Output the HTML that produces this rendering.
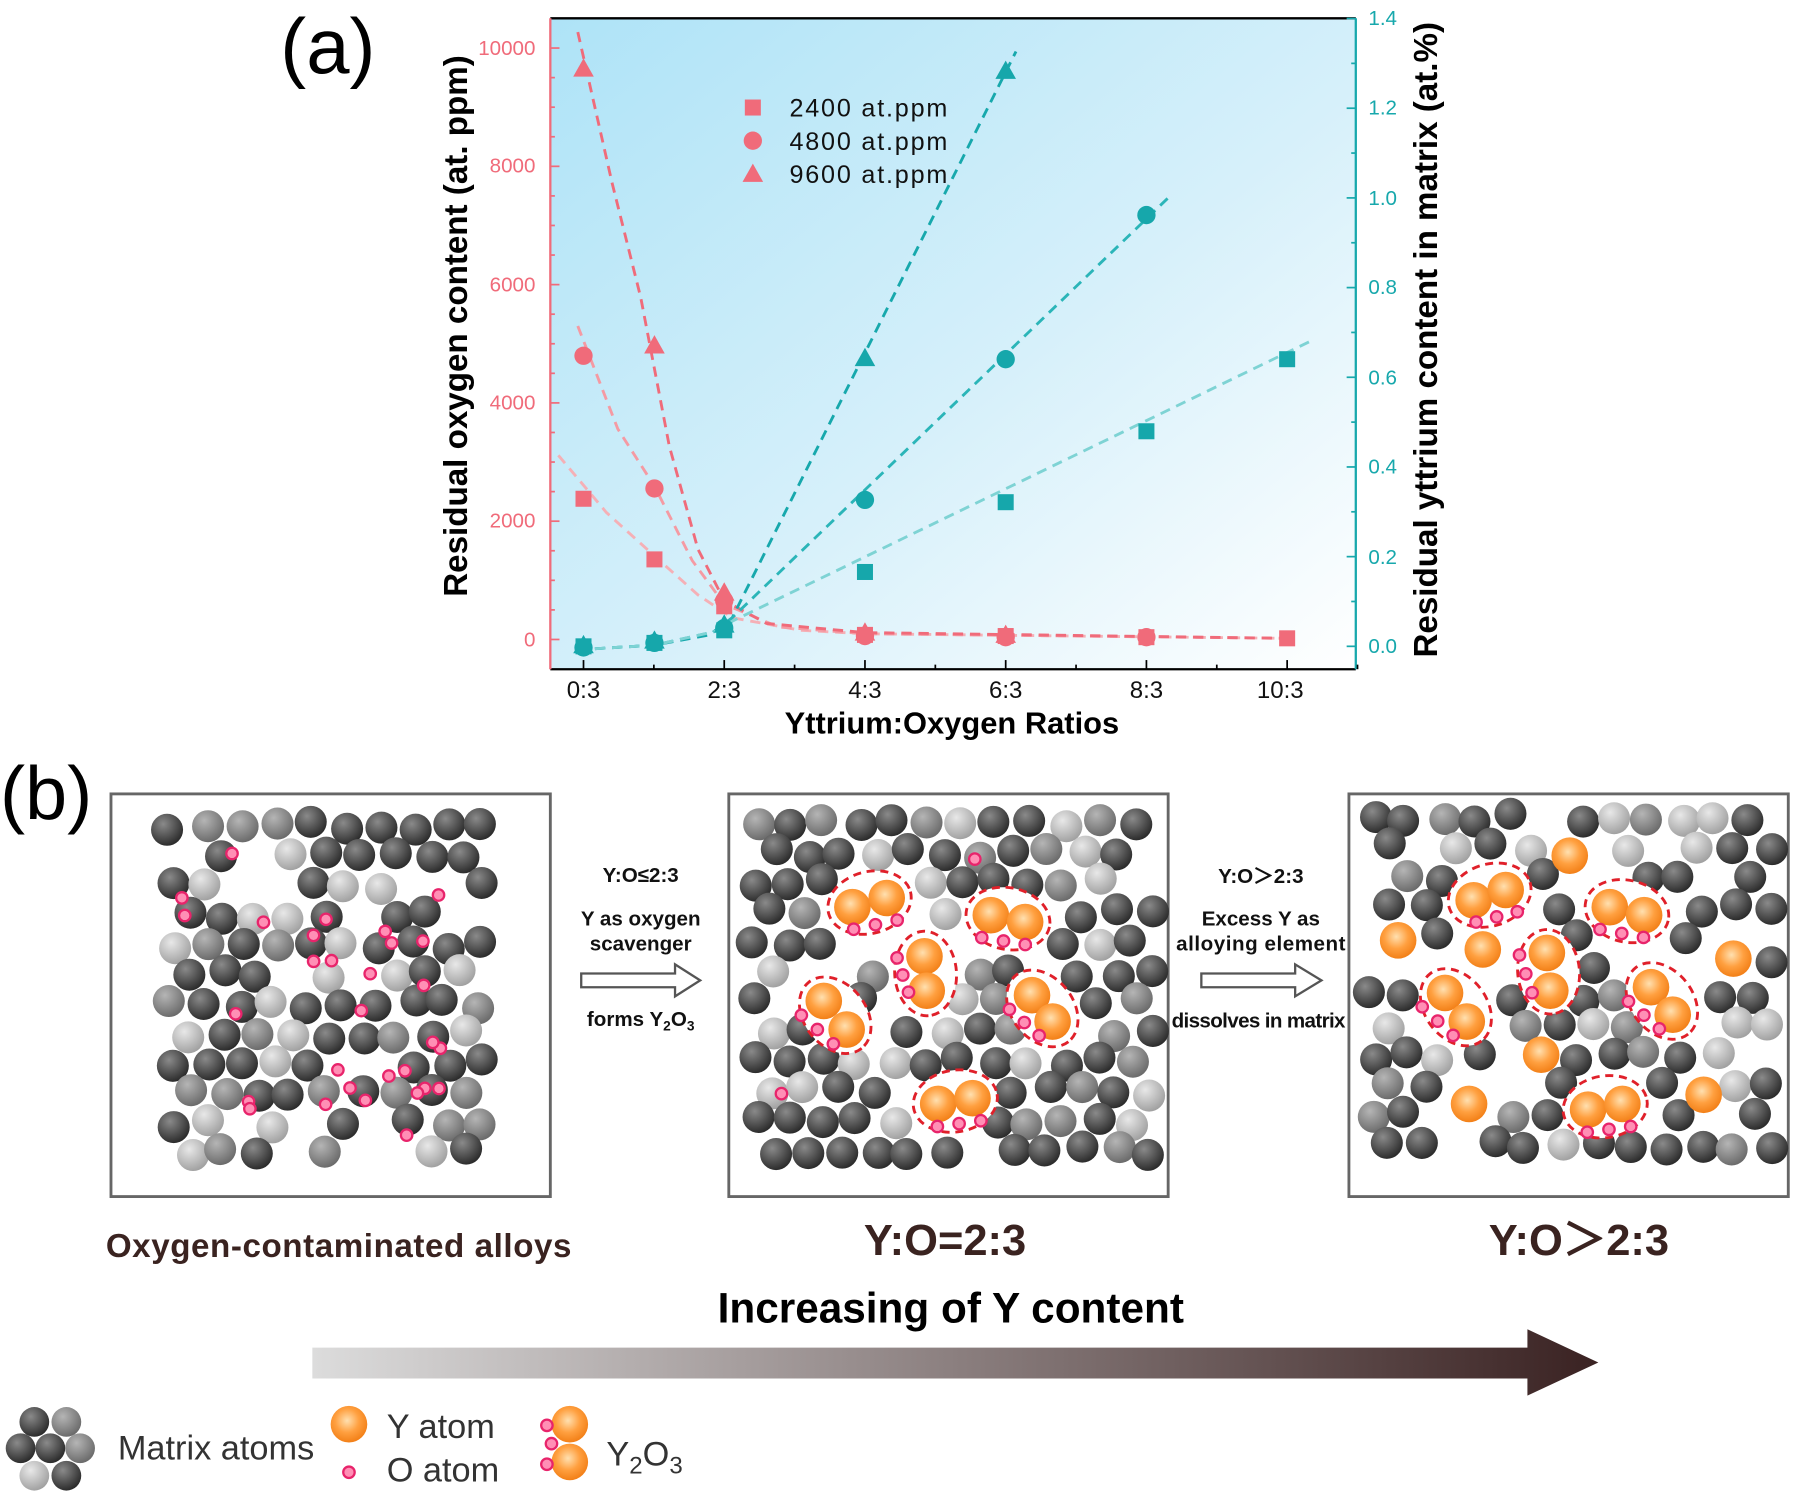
<!DOCTYPE html>
<html><head><meta charset="utf-8"><style>
html,body{margin:0;padding:0;background:#fff;}
svg{display:block;}
text{font-family:"Liberation Sans",Arial,sans-serif;}
</style></head><body>
<svg id="s" width="1794" height="1494" viewBox="0 0 1568 1306" preserveAspectRatio="none" xmlns="http://www.w3.org/2000/svg">
<defs>
<linearGradient id="bg" x1="0" y1="0" x2="1" y2="1"><stop offset="0" stop-color="#aee3f7"/><stop offset="0.55" stop-color="#d6f0fa"/><stop offset="1" stop-color="#ffffff"/></linearGradient>
<radialGradient id="gd" cx="0.38" cy="0.32" r="0.7"><stop offset="0" stop-color="#8a8a8a"/><stop offset="1" stop-color="#2a2a2a"/></radialGradient>
<radialGradient id="gm" cx="0.38" cy="0.32" r="0.7"><stop offset="0" stop-color="#b5b5b5"/><stop offset="1" stop-color="#6a6a6a"/></radialGradient>
<radialGradient id="gl" cx="0.38" cy="0.32" r="0.7"><stop offset="0" stop-color="#e8e8e8"/><stop offset="1" stop-color="#a0a0a0"/></radialGradient>
<radialGradient id="go" cx="0.45" cy="0.4" r="0.65"><stop offset="0" stop-color="#ffe0b0"/><stop offset="0.5" stop-color="#ffa040"/><stop offset="1" stop-color="#f07a10"/></radialGradient>
<linearGradient id="arr" x1="0" y1="0" x2="1" y2="0"><stop offset="0" stop-color="#dcdcdc"/><stop offset="1" stop-color="#3a2222"/></linearGradient>
</defs>

<text x="245" y="64" font-size="68">(a)</text>
<rect x="481" y="16" width="704" height="569" fill="url(#bg)"/>
<line x1="481" y1="16" x2="1185" y2="16" stroke="#000" stroke-width="2"/>
<line x1="481" y1="585" x2="1185" y2="585" stroke="#000" stroke-width="2"/>
<line x1="481" y1="16" x2="481" y2="585" stroke="#f06b7a" stroke-width="2"/>
<line x1="1185" y1="16" x2="1185" y2="585" stroke="#17a8ac" stroke-width="2"/>
<g id="ticks"></g>
<g font-size="18" fill="#f06b7a" text-anchor="end">
<text x="468" y="48">10000</text><text x="468" y="151">8000</text><text x="468" y="255">6000</text><text x="468" y="358">4000</text><text x="468" y="461">2000</text><text x="468" y="565">0</text>
</g>
<g font-size="18" fill="#17a8ac">
<text x="1196" y="22">1.4</text><text x="1196" y="100">1.2</text><text x="1196" y="179">1.0</text><text x="1196" y="257">0.8</text><text x="1196" y="336">0.6</text><text x="1196" y="414">0.4</text><text x="1196" y="493">0.2</text><text x="1196" y="571">0.0</text>
</g>
<g font-size="21" fill="#111" text-anchor="middle">
<text x="510" y="610">0:3</text><text x="633" y="610">2:3</text><text x="756" y="610">4:3</text><text x="879" y="610">6:3</text><text x="1002" y="610">8:3</text><text x="1119" y="610">10:3</text>
</g>
<text x="832" y="641" font-size="27" font-weight="bold" text-anchor="middle">Yttrium:Oxygen Ratios</text>
<text transform="translate(408,285) rotate(-90)" font-size="29" font-weight="bold" text-anchor="middle">Residual oxygen content (at. ppm)</text>
<text transform="translate(1256,297) rotate(-90)" font-size="29" font-weight="bold" text-anchor="middle">Residual yttrium content in matrix (at.%)</text>

<g fill="none" stroke-width="2.5" stroke-dasharray="9,6">
<polyline stroke="#f5b0b6" points="488,398 530,448 572,486 610,520 640,540 700,551 756,554 1125,558"/>
<polyline stroke="#f59aa3" points="505,285 540,375 572,425 605,490 633,528 680,548 756,554 1125,558"/>
<polyline stroke="#f06b7a" points="505,28 535,160 560,260 585,390 610,480 633,525 670,545 756,553 1125,558"/>
<polyline stroke="#17a8ac" points="505,568 572,564 620,555 640,540 888,45"/>
<polyline stroke="#2bb5b8" points="505,568 572,564 625,552 640,540 1022,172"/>
<polyline stroke="#7ed3d4" points="505,568 572,564 625,552 640,543 1148,297"/>
</g>
<g id="markers"></g>
<g font-size="22" fill="#111"><text x="690" y="102" textLength="138">2400  at.ppm</text><text x="690" y="131" textLength="138">4800  at.ppm</text><text x="690" y="160" textLength="138">9600  at.ppm</text></g>

<text x="0" y="716" font-size="66">(b)</text>
<rect x="97" y="694" width="384" height="352" fill="#fff" stroke="#666" stroke-width="2.5"/>
<rect x="637" y="694" width="384" height="352" fill="#fff" stroke="#666" stroke-width="2.5"/>
<rect x="1179" y="694" width="384" height="352" fill="#fff" stroke="#666" stroke-width="2.5"/>
<g id="atoms"></g>

<g font-size="18" font-weight="bold" text-anchor="middle" fill="#111">
<text x="560" y="771">Y:O≤2:3</text>
<text x="560" y="809">Y as oxygen</text>
<text x="560" y="831">scavenger</text>
<text x="560" y="897">forms Y<tspan font-size="12" dy="4">2</tspan><tspan dy="-4">O</tspan><tspan font-size="12" dy="4">3</tspan></text>
<text x="1102" y="772">Y:O＞2:3</text>
<text x="1102" y="809">Excess Y as</text>
<text x="1102" y="831" textLength="148">alloying element</text>
<text x="1100" y="898" textLength="152">dissolves in matrix</text>
</g>
<path d="M508,851 H590 V843 L612,857 L590,871 V863 H508 Z" fill="#fff" stroke="#555" stroke-width="2"/>
<path d="M1050,851 H1132 V843 L1155,857 L1132,871 V863 H1050 Z" fill="#fff" stroke="#555" stroke-width="2"/>

<g font-weight="bold" fill="#3a2320" text-anchor="middle">
<text x="296" y="1099" font-size="29" textLength="407">Oxygen-contaminated alloys</text>
<text x="826" y="1097" font-size="38">Y:O=2:3</text>
<text x="1380" y="1097" font-size="38">Y:O＞2:3</text>
</g>
<text x="831" y="1156" font-size="37" font-weight="bold" text-anchor="middle" fill="#000">Increasing of Y content</text>
<path d="M273,1178 H1335 V1162 L1397,1191 L1335,1220 V1205 H273 Z" fill="url(#arr)"/>

<g id="legend"></g>
<g font-size="30" fill="#333">
<text x="103" y="1276">Matrix atoms</text>
<text x="338" y="1257">Y atom</text>
<text x="338" y="1295">O atom</text>
<text x="530" y="1281">Y<tspan font-size="21" dy="7">2</tspan><tspan dy="-7">O</tspan><tspan font-size="21" dy="7">3</tspan></text>
</g>
</svg>
<script>
var NS="http://www.w3.org/2000/svg";
function el(p,t,a){var e=document.createElementNS(NS,t);for(var k in a)e.setAttribute(k,a[k]);p.appendChild(e);return e;}
var seed=7;function rnd(){seed=(seed*16807)%2147483647;return (seed-1)/2147483646;}
var tk=document.getElementById('ticks');
for(var i=0;i<=20;i++){var y=559-i*25.85;var L=i%4==0?8:4;el(tk,'line',{x1:481,y1:y,x2:481+L,y2:y,stroke:'#f06b7a','stroke-width':1.5});}
for(var i=0;i<=14;i++){var y=565-i*39.2;var L=i%2==0?8:4;el(tk,'line',{x1:1185,y1:y,x2:1185-L,y2:y,stroke:'#17a8ac','stroke-width':1.5});}
for(var i=0;i<=11;i++){var x=510+i*61.5;var L=i%2==0?8:4;el(tk,'line',{x1:x,y1:585,x2:x,y2:585-L,stroke:'#000','stroke-width':1.5});}
var mk=document.getElementById('markers');
function sq(x,y,c){el(mk,'rect',{x:x-7,y:y-7,width:14,height:14,fill:c});}
function ci(x,y,c){el(mk,'circle',{cx:x,cy:y,r:8,fill:c});}
function tr(x,y,c){el(mk,'path',{d:'M'+x+','+(y-9)+' l9,16 h-18 z',fill:c});}
var P='#f06b7a',T='#16a7ab';
[[510,436],[572,489],[633,530],[756,555],[879,556],[1002,557],[1125,558]].forEach(function(p){sq(p[0],p[1],P);});
[[510,311],[572,427],[633,525],[756,556],[879,557],[1002,557]].forEach(function(p){ci(p[0],p[1],P);});
[[510,60],[572,302],[633,518],[756,553],[879,555]].forEach(function(p){tr(p[0],p[1],P);});
[[510,565],[572,562],[633,551],[756,500],[879,439],[1002,377],[1125,314]].forEach(function(p){sq(p[0],p[1],T);});
[[510,566],[572,562],[633,549],[756,437],[879,314],[1002,188]].forEach(function(p){ci(p[0],p[1],T);});
[[510,564],[572,560],[633,546],[756,313],[879,62]].forEach(function(p){tr(p[0],p[1],T);});
sq(658,94,P);ci(658,123,P);tr(658,152,P);
var ag=document.getElementById('atoms');
function gray(g,x,y,r){var v=rnd();var f=v<0.6?'url(#gd)':(v<0.8?'url(#gm)':'url(#gl)');el(g,'circle',{cx:x,cy:y,r:r,fill:f});}
function O(g,x,y){el(g,'circle',{cx:x,cy:y,r:5,fill:'#ff8fb5',stroke:'#e8246b','stroke-width':2});}
function Y(g,x,y){el(g,'circle',{cx:x,cy:y,r:16,fill:'url(#go)'});}
function fill(x0,x1,y0,y1,avoid){
 var sp=30,row=0;
 for(var y=y0;y<=y1;y+=26,row++){
  for(var x=x0+(row%2)*15;x<=x1;x+=sp){
   var xx=x+(rnd()-0.5)*8,yy=y+(rnd()-0.5)*8;
   var ok=true;for(var k=0;k<avoid.length;k++){var a=avoid[k];if(Math.hypot(xx-a[0],yy-a[1])<a[2])ok=false;}
   if(rnd()<0.08)ok=false;
   if(ok)gray(ag,xx,yy,14);
  }}
}
fill(150,430,722,1012,[]);
for(var i=0;i<30;i++){O(ag,150+rnd()*270,740+rnd()*260);}
function clusters(cl,iso){
 var av=[];cl.forEach(function(c){av.push([c[0],c[1],30]);av.push([c[2],c[3],30]);});
 iso.forEach(function(c){av.push([c[0],c[1],28]);});
 return av;}
function drawCl(cl,iso){
 cl.forEach(function(c){
  var mx=(c[0]+c[2])/2,my=(c[1]+c[3])/2,ang=Math.atan2(c[3]-c[1],c[2]-c[0])*180/Math.PI;
  el(ag,'ellipse',{cx:mx,cy:my,rx:37,ry:27,transform:'rotate('+ang+' '+mx+' '+my+')',fill:'#fff',stroke:'#e0202a','stroke-width':2.5,'stroke-dasharray':'7,5'});
  Y(ag,c[0],c[1]);Y(ag,c[2],c[3]);
  var nx=-(c[3]-c[1]),ny=(c[2]-c[0]);var n=Math.hypot(nx,ny);nx/=n;ny/=n;
  O(ag,mx+nx*20,my+ny*20);O(ag,c[0]+nx*20-4,c[1]+ny*20);O(ag,c[2]+nx*20+4,c[3]+ny*20);
 });
 iso.forEach(function(c){Y(ag,c[0],c[1]);});
}
var c2=[[745,793,775,785],[866,800,896,806],[808,836,810,866],[720,875,740,900],[902,870,920,893],[820,965,850,960]];
fill(660,1005,720,1025,clusters(c2,[]));drawCl(c2,[]);
O(ag,852,751);O(ag,683,956);
var c3=[[1288,787,1316,778],[1407,793,1437,800],[1352,833,1355,866],[1263,868,1282,893],[1443,863,1462,887],[1388,970,1418,965]];
var i3=[[1372,748],[1222,822],[1296,830],[1515,838],[1347,922],[1284,965],[1489,957]];
fill(1200,1545,715,1020,clusters(c3,i3));drawCl(c3,i3);
var lg=document.getElementById('legend');
[[30,1243],[58,1243],[18,1266],[44,1266],[70,1266],[30,1290],[58,1290]].forEach(function(p,i){el(lg,'circle',{cx:p[0],cy:p[1],r:13,fill:i%3==1?'url(#gm)':(i==5?'url(#gl)':'url(#gd)')});});
el(lg,'circle',{cx:305,cy:1245,r:16,fill:'url(#go)'});
O(lg,305,1287);
el(lg,'circle',{cx:498,cy:1245,r:16,fill:'url(#go)'});
el(lg,'circle',{cx:498,cy:1278,r:16,fill:'url(#go)'});
O(lg,478,1246);O(lg,482,1262);O(lg,478,1280);
</script>
</body></html>
